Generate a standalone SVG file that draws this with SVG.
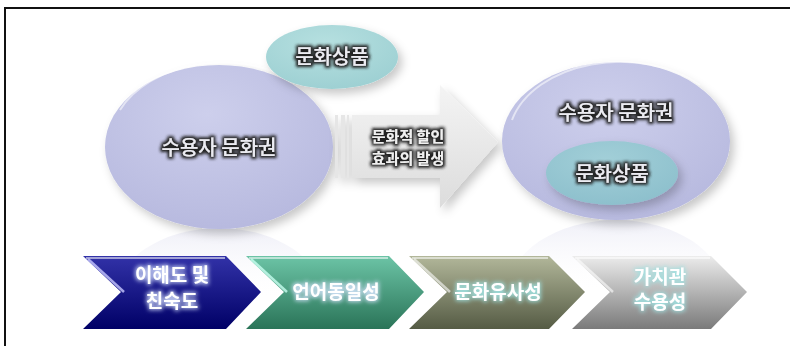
<svg xmlns="http://www.w3.org/2000/svg" width="790" height="346" viewBox="0 0 790 346">
<defs>
  <radialGradient id="gLav" cx="0.45" cy="0.3" r="0.75">
    <stop offset="0" stop-color="#cdcfec"/>
    <stop offset="1" stop-color="#b6b8de"/>
  </radialGradient>
  <radialGradient id="gTeal" cx="0.45" cy="0.3" r="0.75">
    <stop offset="0" stop-color="#b6e0e0"/>
    <stop offset="1" stop-color="#9ccfd2"/>
  </radialGradient>
  <radialGradient id="gTeal2" cx="0.45" cy="0.3" r="0.75">
    <stop offset="0" stop-color="#a2cfd8"/>
    <stop offset="1" stop-color="#8cbfcc"/>
  </radialGradient>
  <linearGradient id="gRefl" x1="0" y1="0" x2="0" y2="1">
    <stop offset="0" stop-color="#c9cae6" stop-opacity="0.5"/>
    <stop offset="0.5" stop-color="#ffffff" stop-opacity="0"/>
  </linearGradient>
  <linearGradient id="gArrow" x1="0" y1="0" x2="0" y2="1">
    <stop offset="0" stop-color="#f4f4f4"/>
    <stop offset="1" stop-color="#dcdcdc"/>
  </linearGradient>
  <linearGradient id="gC1" x1="0" y1="0" x2="0" y2="1">
    <stop offset="0" stop-color="#3232a8"/>
    <stop offset="1" stop-color="#000066"/>
  </linearGradient>
  <linearGradient id="gC2" x1="0" y1="0" x2="0" y2="1">
    <stop offset="0" stop-color="#6cc4a6"/>
    <stop offset="1" stop-color="#2a7458"/>
  </linearGradient>
  <linearGradient id="gC3" x1="0" y1="0" x2="0" y2="1">
    <stop offset="0" stop-color="#b2b79a"/>
    <stop offset="1" stop-color="#555b44"/>
  </linearGradient>
  <linearGradient id="gC4" x1="0" y1="0" x2="0" y2="1">
    <stop offset="0" stop-color="#ececec"/>
    <stop offset="1" stop-color="#7a7a7a"/>
  </linearGradient>
  <filter id="shadow" x="-20%" y="-20%" width="150%" height="150%">
    <feDropShadow dx="4" dy="5" stdDeviation="5" flood-color="#000" flood-opacity="0.22"/>
  </filter>
  <filter id="darkGlow" x="-20%" y="-40%" width="140%" height="180%">
    <feMorphology in="SourceAlpha" operator="dilate" radius="1.6" result="d"/>
    <feGaussianBlur in="d" stdDeviation="1.6" result="b"/>
    <feFlood flood-color="#222222" flood-opacity="1"/>
    <feComposite in2="b" operator="in" result="g"/>
    <feMerge><feMergeNode in="g"/><feMergeNode in="SourceGraphic"/></feMerge>
  </filter>
  <filter id="lightGlow" x="-20%" y="-40%" width="140%" height="180%">
    <feMorphology in="SourceAlpha" operator="dilate" radius="1.2" result="d"/>
    <feGaussianBlur in="d" stdDeviation="2" result="b"/>
    <feFlood flood-color="#d8e4ff" flood-opacity="0.85"/>
    <feComposite in2="b" operator="in" result="g"/>
    <feMerge><feMergeNode in="g"/><feMergeNode in="SourceGraphic"/></feMerge>
  </filter>
  <filter id="tealGlow" x="-20%" y="-40%" width="140%" height="180%">
    <feMorphology in="SourceAlpha" operator="dilate" radius="1.2" result="d"/>
    <feGaussianBlur in="d" stdDeviation="2" result="b"/>
    <feFlood flood-color="#9fe0e0" flood-opacity="0.9"/>
    <feComposite in2="b" operator="in" result="g"/>
    <feMerge><feMergeNode in="g"/><feMergeNode in="SourceGraphic"/></feMerge>
  </filter>
</defs>
<style>
  .ell { font-family: "Noto Sans CJK KR", "Noto Sans", sans-serif; font-size: 20px; font-weight: 500; fill: #ececf2; text-anchor: middle; filter: url(#darkGlow); }
  .arr { font-family: "Noto Sans CJK KR", "Noto Sans", sans-serif; font-size: 15px; font-weight: bold; fill: #f0f0f0; text-anchor: middle; filter: url(#darkGlow); }
  .chv { font-family: "Noto Sans CJK KR", "Noto Sans", sans-serif; font-size: 19px; font-weight: bold; fill: #ffffff; text-anchor: middle; }
  .hl { fill: none; stroke: #ffffff; stroke-opacity: 0.55; stroke-width: 2; }
</style>

<rect width="790" height="346" fill="#ffffff"/>
<polyline points="5,346 5,8 790,8" fill="none" stroke="#111" stroke-width="2"/>

<!-- reflections -->
<ellipse cx="219" cy="300" rx="105" ry="72" fill="url(#gRefl)" opacity="0.6"/>
<ellipse cx="616" cy="292" rx="108" ry="72" fill="url(#gRefl)" opacity="0.6"/>

<g id="left-culture">
  <ellipse cx="219" cy="147" rx="114" ry="82" fill="url(#gLav)" filter="url(#shadow)"/>
  <path d="M 120 110 A 112 80 0 0 1 300 85" class="hl"/>
  <text x="219" y="155" class="ell">수용자 문화권</text>
</g>

<g id="left-product">
  <ellipse cx="332" cy="57" rx="66" ry="32" fill="url(#gTeal)" filter="url(#shadow)"/>
  <text x="332" y="64" class="ell" font-size="19">문화상품</text>
</g>

<g id="arrow">
  <g filter="url(#shadow)">
    <polygon points="352,115 440,115 440,85 498,142 440,208 440,178 352,178" fill="url(#gArrow)"/>
    <rect x="335" y="115" width="3" height="63" fill="#e6e6e6"/>
    <rect x="341" y="115" width="4" height="63" fill="#e6e6e6"/>
    <rect x="347" y="115" width="2" height="63" fill="#e6e6e6"/>
  </g>
  <text class="arr"><tspan x="408" y="142">문화적 할인</tspan><tspan x="408" y="164">효과의 발생</tspan></text>
</g>

<g id="right-culture">
  <ellipse cx="616" cy="141" rx="114" ry="79" fill="url(#gLav)" filter="url(#shadow)"/>
  <path d="M 512 120 A 112 78 0 0 1 700 85" class="hl"/>
  <text x="616" y="120" class="ell">수용자 문화권</text>
</g>

<g id="right-product">
  <ellipse cx="612" cy="173" rx="66" ry="32" fill="url(#gTeal2)" filter="url(#shadow)"/>
  <text x="612" y="181" class="ell" font-size="19">문화상품</text>
</g>

<g id="step1">
  <polygon points="83,256 226,256 261,292 226,329 83,329 121,292" fill="url(#gC1)"/>
  <polyline points="86,258 225,258" class="hl" stroke="#b8b8ff"/>
  <polyline points="88,259 124,292" fill="none" stroke="#c8c8ff" stroke-width="2.5" stroke-opacity="0.8"/>
  <text class="chv" filter="url(#lightGlow)"><tspan x="172" y="282">이해도 및</tspan><tspan x="172" y="308">친숙도</tspan></text>
</g>

<g id="step2">
  <polygon points="246,256 389,256 424,292 389,329 246,329 284,292" fill="url(#gC2)"/>
  <polyline points="249,258 388,258" class="hl" stroke="#c0fff0"/>
  <polyline points="251,259 287,292" fill="none" stroke="#c8fff0" stroke-width="2.5" stroke-opacity="0.8"/>
  <text x="336" y="299" class="chv" font-size="20" filter="url(#lightGlow)">언어동일성</text>
</g>

<g id="step3">
  <polygon points="409,256 549,256 585,292 549,329 409,329 447,292" fill="url(#gC3)"/>
  <polyline points="412,258 548,258" class="hl"/>
  <polyline points="414,259 450,292" fill="none" stroke="#ffffff" stroke-width="2.5" stroke-opacity="0.6"/>
  <text x="498" y="299" class="chv" font-size="20" filter="url(#tealGlow)">문화유사성</text>
</g>

<g id="step4">
  <polygon points="572,256 711,256 747,292 711,329 572,329 610,292" fill="url(#gC4)"/>
  <polyline points="575,258 710,258" class="hl"/>
  <polyline points="577,259 613,292" fill="none" stroke="#ffffff" stroke-width="2.5" stroke-opacity="0.6"/>
  <text class="chv" filter="url(#tealGlow)"><tspan x="660" y="284">가치관</tspan><tspan x="660" y="309">수용성</tspan></text>
</g>
</svg>
